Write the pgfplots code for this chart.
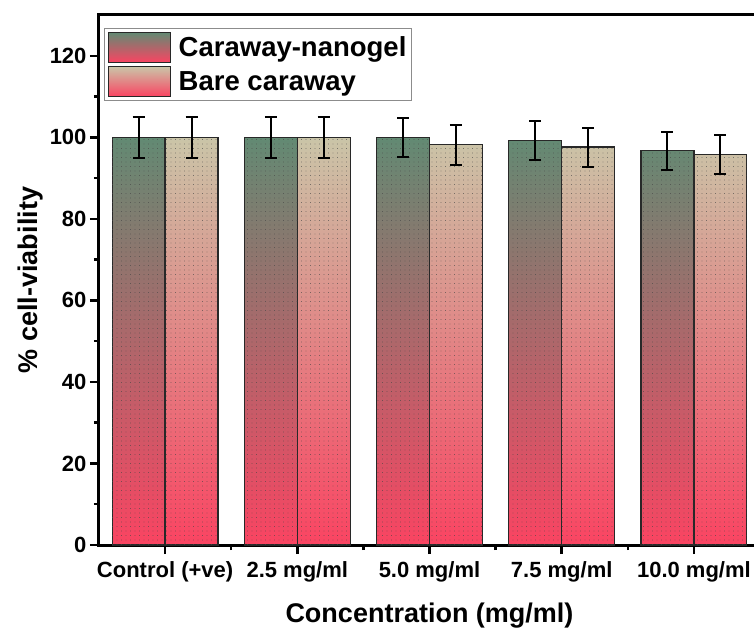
\documentclass[border=0pt]{standalone}
\usepackage{fontspec}
\setmainfont{Liberation Sans}
\usepackage{pgfplots}
\pgfplotsset{compat=1.18}
\usetikzlibrary{patterns.meta}
\definecolor{barred}{RGB}{250,68,98}
\definecolor{nanogreen}{RGB}{98,138,115}
\definecolor{baretan}{RGB}{202,197,168}
\definecolor{baredge}{RGB}{40,40,40}
\definecolor{dotcol}{RGB}{70,70,70}
\tikzset{dotfill/.style={pattern={Dots[distance=4.5pt, radius=0.45pt]}, pattern color=dotcol}}

\begin{document}
\begin{tikzpicture}
\useasboundingbox (-99pt,-85pt) rectangle (655pt,545pt);
\begin{axis}[
  at={(0pt,0pt)}, anchor=south west,
  scale only axis, width=661pt, height=530pt,
  xmin=-0.5, xmax=4.5, ymin=0, ymax=130,
  ybar=0pt, bar width=0.4,
  xtick={0,1,2,3,4},
  xticklabels={Control (+ve), 2.5 mg/ml, 5.0 mg/ml, 7.5 mg/ml, 10.0 mg/ml},
  minor xtick={0.5,1.5,2.5,3.5},
  ytick={0,20,40,60,80,100,120}, minor ytick={10,30,50,70,90,110},
  tick align=outside, tick pos=left,
  major tick length=9pt, minor tick length=5pt,
  every tick/.style={line width=2.5pt, black},
  axis line style={line width=3pt},
  ticklabel style={font=\fontsize{22}{24}\selectfont\bfseries},
  xticklabel style={yshift=-4pt},
  /pgf/number format/assume math mode=true,
  xlabel={Concentration (mg/ml)}, ylabel={\% cell-viability},
  label style={font=\fontsize{27}{30}\selectfont\bfseries},
  xlabel style={yshift=-14pt},
  legend style={at={(rel axis cs:0.0076,0.975)}, anchor=north west,
    draw=black!45, line width=1pt, inner sep=3pt,
    font=\fontsize{27.5}{30}\selectfont\bfseries,
    row sep=3pt, legend cell align=left},
  legend image code/.code={\draw[#1] (0pt,-15pt) rectangle (62pt,15pt);
    \fill[dotfill] (0pt,-15pt) rectangle (62pt,15pt); \path (68pt,0pt);},
]
\addplot[bar shift=-0.2, draw=baredge, line width=1.2pt, top color=nanogreen, bottom color=barred]
  coordinates {(0,100) (1,100) (2,100) (3,99.2) (4,96.7)};
\addlegendentry{Caraway-nanogel}
\addplot[bar shift=0.2, draw=baredge, line width=1.2pt, top color=baretan, bottom color=barred]
  coordinates {(0,100) (1,100) (2,98.2) (3,97.6) (4,95.8)};
\addlegendentry{Bare caraway}
\addplot[forget plot, bar shift=-0.2, draw=none, dotfill,
  error bars/.cd, y dir=both, y explicit,
  error bar style={line width=2pt, black},
  error mark options={rotate=90, line width=2pt, mark size=6pt, black}]
  coordinates {(0,100) +- (0,5) (1,100) +- (0,5) (2,100) +- (0,4.8) (3,99.2) +- (0,4.8) (4,96.7) +- (0,4.7)};
\addplot[forget plot, bar shift=0.2, draw=none, dotfill,
  error bars/.cd, y dir=both, y explicit,
  error bar style={line width=2pt, black},
  error mark options={rotate=90, line width=2pt, mark size=6pt, black}]
  coordinates {(0,100) +- (0,5) (1,100) +- (0,5) (2,98.2) +- (0,4.9) (3,97.6) +- (0,4.8) (4,95.8) +- (0,4.7)};
\end{axis}
\end{tikzpicture}
\end{document}
